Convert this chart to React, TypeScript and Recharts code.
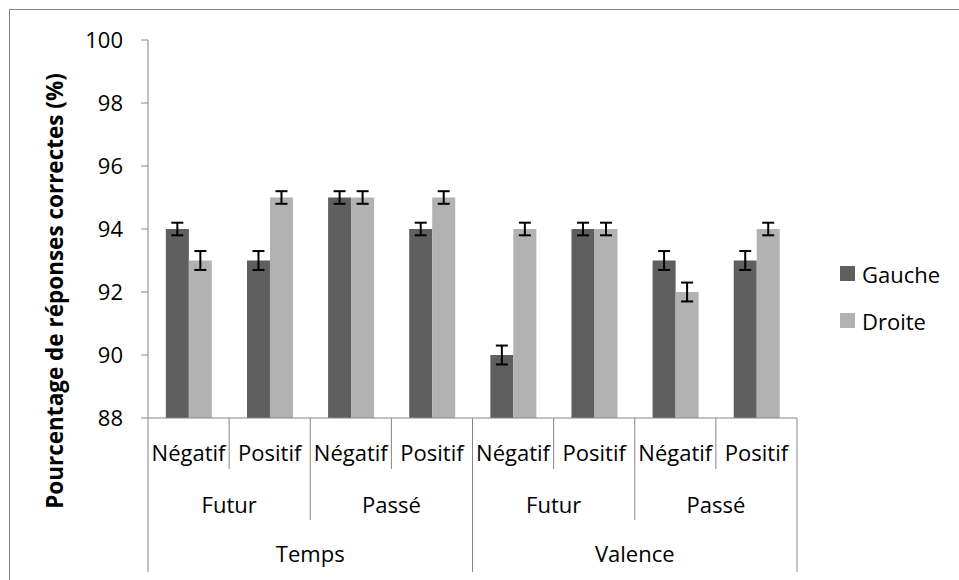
import { BarChart, Bar, XAxis, YAxis, ErrorBar, Legend, Label } from 'recharts';

const valences = ['Négatif', 'Positif', 'Négatif', 'Positif', 'Négatif', 'Positif', 'Négatif', 'Positif'];
const temps = ['Futur', 'Futur', 'Passé', 'Passé', 'Futur', 'Futur', 'Passé', 'Passé'];
const groups = ['Temps', 'Temps', 'Temps', 'Temps', 'Valence', 'Valence', 'Valence', 'Valence'];

const gauche = [94, 93, 95, 94, 90, 94, 93, 93];
const gaucheErr = [0.2, 0.3, 0.2, 0.2, 0.3, 0.2, 0.3, 0.3];
const droite = [93, 95, 95, 95, 94, 94, 92, 94];
const droiteErr = [0.3, 0.2, 0.2, 0.2, 0.2, 0.2, 0.3, 0.2];

const yTicks = [88, 90, 92, 94, 96, 98, 100];

const series = [
  { key: 'gauche', name: 'Gauche', color: '#5f5f5f' },
  { key: 'droite', name: 'Droite', color: '#b2b2b2' },
];

const data = valences.map((v, i) => ({
  valence: v,
  temps: temps[i],
  group: groups[i],
  gauche: gauche[i],
  gaucheErr: gaucheErr[i],
  droite: droite[i],
  droiteErr: droiteErr[i],
}));

const FONT = '"Open Sans", sans-serif';
const AXIS = '#868686';

// length of a run of equal labels starting at index i
const runLength = (i: number, same: (a: number, b: number) => boolean) => {
  let n = 1;
  while (i + n < data.length && same(i, i + n)) n++;
  return n;
};

const CategoryTick = (props: any) => {
  const { x, y, index, payload, width, visibleTicksCount } = props;
  const band = payload && payload.offset ? payload.offset * 2 : width / visibleTicksCount;
  const left = x - band / 2;
  const d = data[index];
  const prev = index > 0 ? data[index - 1] : null;
  const groupStart = !prev || prev.group !== d.group;
  const tempsStart = groupStart || prev!.temps !== d.temps;
  const lineLen = groupStart ? 154 : tempsStart ? 102 : 51;
  const txt = { fontFamily: FONT, fontSize: 22, fill: '#000', textAnchor: 'middle' as const, dominantBaseline: 'central' as const };
  const nT = runLength(index, (a, b) => data[a].group === data[b].group && data[a].temps === data[b].temps);
  const nG = runLength(index, (a, b) => data[a].group === data[b].group);
  return (
    <g>
      <line x1={left} x2={left} y1={y} y2={y + lineLen} stroke={AXIS} />
      {index === data.length - 1 && (
        <line x1={left + band} x2={left + band} y1={y} y2={y + 154} stroke={AXIS} />
      )}
      <text x={x} y={y + 34} {...txt}>{d.valence}</text>
      {tempsStart && (
        <text x={left + (nT * band) / 2} y={y + 86} {...txt}>{d.temps}</text>
      )}
      {groupStart && (
        <text x={left + (nG * band) / 2} y={y + 135} {...txt}>{d.group}</text>
      )}
    </g>
  );
};

const LegendContent = () => (
  <div style={{ fontFamily: FONT, fontSize: 22, color: '#000' }}>
    {series.map((s) => (
      <div key={s.key} style={{ display: 'flex', alignItems: 'center', height: 47 }}>
        <div style={{ width: 15, height: 15, background: s.color, marginRight: 7 }} />
        <span>{s.name}</span>
      </div>
    ))}
  </div>
);

export default function App() {
  return (
    <div style={{ position: 'fixed', left: 0, top: 0, width: 959, height: 580, overflow: 'hidden', background: '#fff' }}>
      <div style={{ position: 'absolute', left: 9, top: 9, width: 1000, height: 1000, border: '1px solid #888' }} />
      <div style={{ position: 'absolute', left: 0, top: 0 }}>
        <BarChart
          width={959}
          height={580}
          data={data}
          margin={{ top: 40, right: 162, bottom: 0, left: 0 }}
          barCategoryGap="22%"
          barGap={0}
        >
          <XAxis
            dataKey="valence"
            height={162}
            interval={0}
            tickLine={false}
            tickSize={0}
            tickMargin={0}
            axisLine={{ stroke: AXIS }}
            tick={<CategoryTick />}
          />
          <YAxis
            width={148}
            domain={[88, 100]}
            ticks={yTicks}
            allowDataOverflow
            interval={0}
            tickSize={7}
            tickMargin={18}
            axisLine={{ stroke: AXIS }}
            tickLine={{ stroke: AXIS }}
            tick={{ fontFamily: FONT, fontSize: 22, fill: '#000' }}
          >
            <Label
              content={({ viewBox }: any) => {
                const cx = viewBox.x + 54;
                const cy = 291;
                return (
                  <text
                    x={cx}
                    y={cy}
                    transform={`rotate(-90, ${cx}, ${cy})`}
                    textAnchor="middle"
                    dominantBaseline="central"
                    fontFamily={FONT}
                    fontSize={22.5}
                    fontWeight="bold"
                    fill="#000"
                  >
                    Pourcentage de réponses correctes (%)
                  </text>
                );
              }}
            />
          </YAxis>
          <Legend
            layout="vertical"
            align="center"
            verticalAlign="middle"
            wrapperStyle={{ left: 840, top: 250, width: 110 }}
            content={<LegendContent />}
          />
          {series.map((s) => (
            <Bar key={s.key} dataKey={s.key} name={s.name} fill={s.color} isAnimationActive={false}>
              <ErrorBar dataKey={`${s.key}Err`} width={6} strokeWidth={2} stroke="#000" />
            </Bar>
          ))}
        </BarChart>
      </div>
    </div>
  );
}
